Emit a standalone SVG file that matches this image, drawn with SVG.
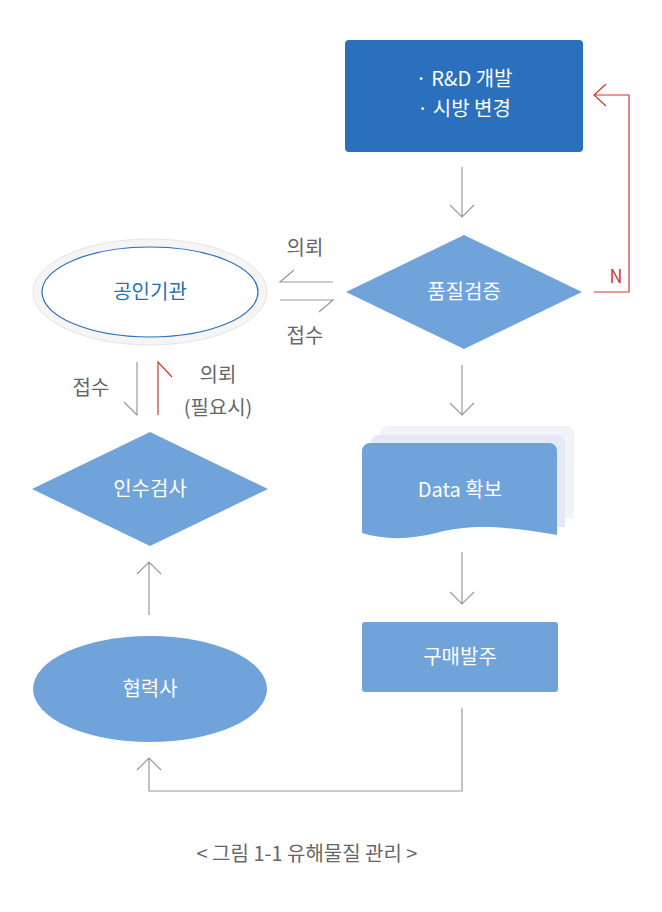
<svg xmlns="http://www.w3.org/2000/svg" width="662" height="912" viewBox="0 0 662 912">
<style>
text{font-family:"Noto Sans CJK KR","Noto Sans",sans-serif;text-anchor:middle}
.w{fill:#fff;font-size:20px}
.g{fill:#666;font-size:20px}
.c{fill:none;stroke:#999;stroke-width:1.2}
.r{fill:none;stroke:#d0392b;stroke-width:1.2}
</style>
<rect width="662" height="912" fill="#fff"/>
<g id="rnd"><rect x="345" y="40" width="238" height="112" rx="4" fill="#2a70bd"/>
<text class="w" x="464" y="86">· R&amp;D 개발</text><text class="w" x="464" y="116">· 시방 변경</text></g>
<g id="quality"><polygon points="346,292 464,235 582,292 464,349" fill="#6fa3d9"/><text class="w" x="464" y="299">품질검증</text></g>
<g id="data">
<path d="M380,434 a8,8 0 0 1 8,-8 h178 a8,8 0 0 1 8,8 v84 h-194z" fill="#f1f3f8"/>
<path d="M371,443 a8,8 0 0 1 8,-8 h178 a8,8 0 0 1 8,8 v84 h-194z" fill="#e4e9f3"/>
<path d="M362,451 a8,8 0 0 1 8,-8 h179 a8,8 0 0 1 8,8 v84 C500,525 470,525 440,532 C410,540 385,540 362,533z" fill="#6fa3d9"/>
<text class="w" x="460" y="497">Data 확보</text></g>
<g id="order"><rect x="362" y="622" width="196" height="70" rx="3" fill="#6fa3d9"/><text class="w" x="460" y="664">구매발주</text></g>
<g id="agency"><ellipse cx="150" cy="292" rx="117" ry="53" fill="#f5f5f5" stroke="#e4e4e4"/>
<ellipse cx="150" cy="292" rx="108" ry="45" fill="#fff" stroke="#2a70bd" stroke-width="1.2"/>
<text x="150" y="299" fill="#2a70bd" font-size="20">공인기관</text></g>
<g id="inspect"><polygon points="32,489 150,432 268,489 150,546" fill="#6fa3d9"/><text class="w" x="150" y="496">인수검사</text></g>
<g id="partner"><ellipse cx="150" cy="689" rx="117" ry="53" fill="#6fa3d9"/><text class="w" x="150" y="696">협력사</text></g>
<g id="connectors">
<path class="c" d="M462,167V217M450,205L462,217L474,205"/>
<path class="c" d="M462,365V415M450,403L462,415L474,403"/>
<path class="c" d="M462,552V604M450,592L462,604L474,592"/>
<path class="c" d="M333,282H280L294,270"/>
<path class="c" d="M280,300H333L319,312"/>
<path class="c" d="M137,362V415L124,402"/>
<path class="r" d="M158,415V362L172,377"/>
<path class="r" d="M594,292H629V95H594M606,84L594,95L606,106"/>
<path class="c" d="M149,615V562M137,574L149,562L161,574"/>
<path class="c" d="M462,708V791H149V758M137,770L149,758L161,770"/>
</g>
<g id="labels">
<text class="g" x="305" y="255">의뢰</text>
<text class="g" x="305" y="343">접수</text>
<text class="g" x="91" y="395">접수</text>
<text class="g" x="218" y="382">의뢰</text>
<text class="g" x="218" y="415">(필요시)</text>
<text x="616" y="283" fill="#d0392b" font-size="18">N</text>
<text class="g" x="307" y="861" font-size="19">&lt; 그림 1-1 유해물질 관리 &gt;</text>
</g>
</svg>
